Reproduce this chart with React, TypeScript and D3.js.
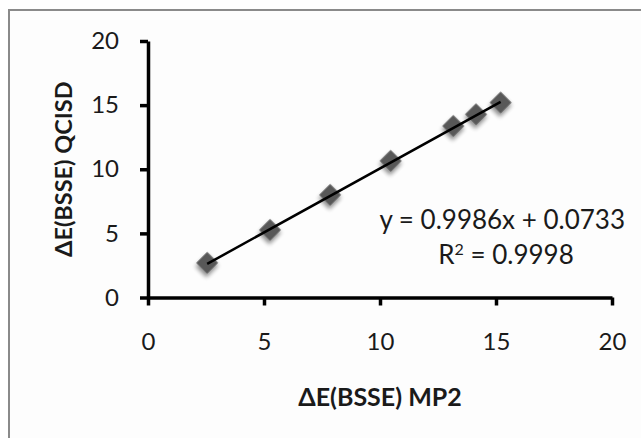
import { useEffect, useRef } from "react";
import * as d3 from "d3";

// values
const mp2Values = [2.55, 5.26, 7.85, 10.46, 13.16, 14.14, 15.2];
const qcisdValues = [2.7, 5.27, 8.0, 10.65, 13.37, 14.28, 15.2];
const xTicks = [0, 5, 10, 15, 20];
const yTicks = [0, 5, 10, 15, 20];
const slope = 0.9986;
const intercept = 0.0733;
const equationLabel = "y = 0.9986x + 0.0733";
const r2Value = "0.9998";
const xTitle = "ΔE(BSSE) MP2";
const yTitle = "ΔE(BSSE) QCISD";

const FONT = "Lato, 'Open Sans', sans-serif";

export default function App() {
  const svgRef = useRef<SVGSVGElement>(null);

  useEffect(() => {
    const svg = d3.select(svgRef.current);
    svg.selectAll("*").remove();

    const width = 641;
    const height = 438;
    const plot = { left: 148, right: 612, top: 41, bottom: 297.5 };

    svg.attr("width", width).attr("height", height);

    // drop shadow used by the markers
    const defs = svg.append("defs");
    const filter = defs.append("filter").attr("id", "shadow")
      .attr("x", "-50%").attr("y", "-50%").attr("width", "200%").attr("height", "200%");
    filter.append("feGaussianBlur").attr("in", "SourceAlpha").attr("stdDeviation", 2.2);
    filter.append("feOffset").attr("dx", 1.5).attr("dy", 2.5).attr("result", "blur");
    filter.append("feComponentTransfer").append("feFuncA").attr("type", "linear").attr("slope", 0.45);
    const merge = filter.append("feMerge");
    merge.append("feMergeNode");
    merge.append("feMergeNode").attr("in", "SourceGraphic");

    // chart area frame (cut off at right and bottom, like the picture)
    svg.append("rect").attr("width", width).attr("height", height).attr("fill", "#ffffff");
    svg.append("rect")
      .attr("x", 9).attr("y", 10)
      .attr("width", width + 20).attr("height", height + 20)
      .attr("fill", "#fdfdfd")
      .attr("stroke", "#8a8a8a")
      .attr("stroke-width", 2);

    const xScale = d3.scaleLinear().domain([0, 20]).range([plot.left, plot.right]);
    const yScale = d3.scaleLinear().domain([0, 20]).range([plot.bottom, plot.top]);

    const yAxis = svg.append("g")
      .attr("transform", `translate(${plot.left},0)`)
      .call(d3.axisLeft(yScale).tickValues(yTicks).tickSize(8).tickPadding(21).tickSizeOuter(0));
    const xAxis = svg.append("g")
      .attr("transform", `translate(0,${plot.bottom})`)
      .call(d3.axisBottom(xScale).tickValues(xTicks).tickSize(8).tickPadding(27).tickSizeOuter(0));

    [xAxis, yAxis].forEach(ax => {
      ax.select(".domain").attr("stroke", "#000").attr("stroke-width", 3.5);
      ax.selectAll(".tick line").attr("stroke", "#000").attr("stroke-width", 3.5);
      ax.selectAll(".tick text")
        .attr("fill", "#1a1a1a")
        .style("font-family", FONT)
        .style("font-size", "24px");
    });

    // markers
    const points = mp2Values.map((d, i) => [d, qcisdValues[i]]);
    const diamond = d3.symbol().type(d3.symbolSquare).size(240);
    svg.append("g").selectAll("path")
      .data(points)
      .join("path")
      .attr("d", diamond)
      .attr("transform", d => `translate(${xScale(d[0])},${yScale(d[1])}) rotate(45)`)
      .attr("fill", "#595959")
      .attr("filter", "url(#shadow)");

    // linear trendline
    const xExtent = d3.extent(mp2Values) as [number, number];
    const trend = xExtent.map(x => [xScale(x), yScale(slope * x + intercept)] as [number, number]);
    svg.append("path")
      .attr("d", d3.line()(trend))
      .attr("fill", "none")
      .attr("stroke", "#000")
      .attr("stroke-width", 2.5);

    // equation labels
    svg.append("text")
      .attr("x", 625).attr("y", 229)
      .attr("text-anchor", "end")
      .attr("fill", "#1a1a1a")
      .style("font-family", FONT).style("font-size", "26px")
      .text(equationLabel);
    const r2 = svg.append("text")
      .attr("x", 506).attr("y", 264)
      .attr("text-anchor", "middle")
      .attr("fill", "#1a1a1a")
      .style("font-family", FONT).style("font-size", "26px");
    r2.append("tspan").text("R");
    r2.append("tspan").attr("dy", -9).style("font-size", "16px").text("2");
    r2.append("tspan").attr("dy", 9).text(` = ${r2Value}`);

    // axis titles
    svg.append("text")
      .attr("x", 380).attr("y", 406)
      .attr("text-anchor", "middle")
      .attr("fill", "#1a1a1a")
      .style("font-family", FONT).style("font-size", "25px").style("font-weight", "bold")
      .text(xTitle);
    svg.append("text")
      .attr("transform", `translate(72,${(plot.top + plot.bottom) / 2}) rotate(-90)`)
      .attr("text-anchor", "middle")
      .attr("fill", "#1a1a1a")
      .style("font-family", FONT).style("font-size", "23.5px").style("font-weight", "bold")
      .text(yTitle);
  }, []);

  return (
    <div style={{ position: "fixed", left: 0, top: 0 }}>
      <svg ref={svgRef} style={{ display: "block" }} />
    </div>
  );
}
